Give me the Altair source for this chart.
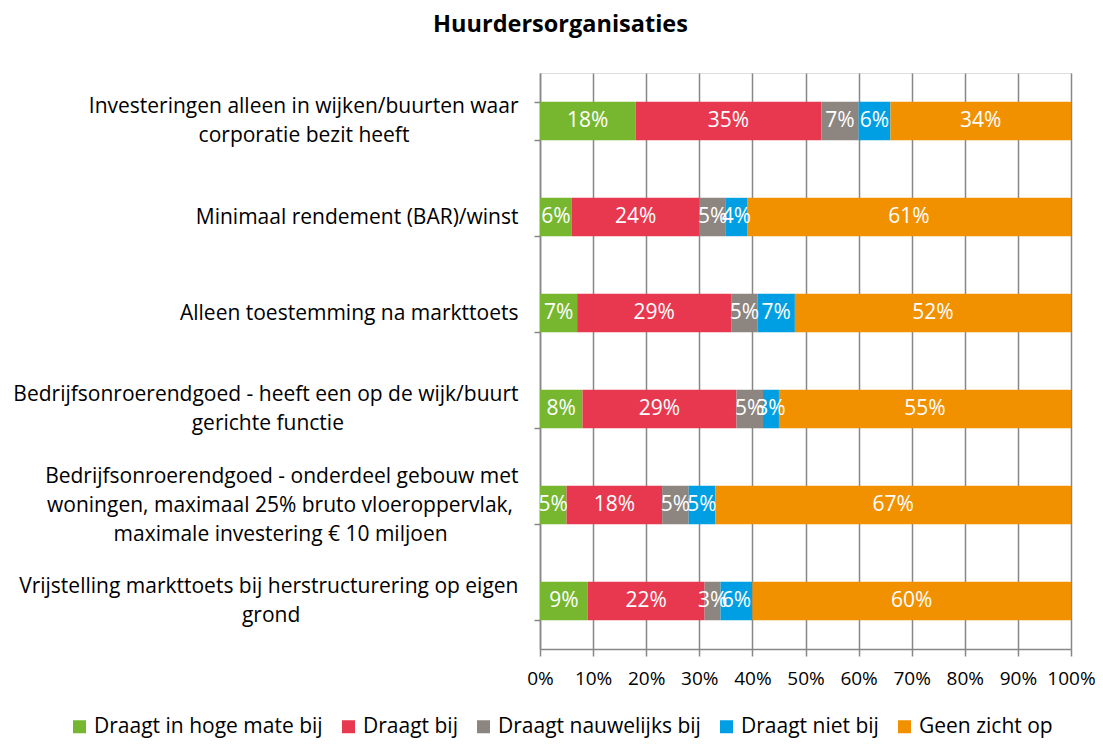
import altair as alt
import pandas as pd

categories = [
    "Investeringen alleen in wijken/buurten waar|corporatie bezit heeft",
    "Minimaal rendement (BAR)/winst",
    "Alleen toestemming na markttoets",
    "Bedrijfsonroerendgoed - heeft een op de wijk/buurt|gerichte functie",
    "Bedrijfsonroerendgoed - onderdeel gebouw met|woningen, maximaal 25% bruto vloeroppervlak,|maximale investering € 10 miljoen",
    "Vrijstelling markttoets bij herstructurering op eigen|grond",
]
series = ["Draagt in hoge mate bij", "Draagt bij", "Draagt nauwelijks bij", "Draagt niet bij", "Geen zicht op"]
hoge_mate = [18, 6, 7, 8, 5, 9]
draagt_bij = [35, 24, 29, 29, 18, 22]
nauwelijks = [7, 5, 5, 5, 5, 3]
niet_bij = [6, 4, 7, 3, 5, 6]
geen_zicht = [34, 61, 52, 55, 67, 60]
colors = ["#76B72F", "#E8384F", "#8C8580", "#009FE3", "#F29100"]
x_ticks = list(range(0, 101, 10))

FONT = "Open Sans"
FS = 21
GRID = "#878787"
LINE_H = 29

# approximate Open Sans advance widths (units per em = 2048), used only to
# centre the lines of the multi-line category labels
_ADV = {
    " ": 532, "a": 1139, "b": 1255, "c": 975, "d": 1255, "e": 1149, "f": 694,
    "g": 1122, "h": 1257, "i": 518, "j": 518, "k": 1075, "l": 518, "m": 1905,
    "n": 1257, "o": 1237, "p": 1255, "q": 1255, "r": 836, "s": 977, "t": 723,
    "u": 1257, "v": 1026, "w": 1593, "x": 1073, "y": 1028, "z": 977,
    "B": 1300, "I": 614, "V": 1133, "A": 1296, "M": 1804, "R": 1221,
    ",": 502, "/": 750, "-": 659, "€": 1171, "%": 1751, "(": 604, ")": 604,
}


def _w(s):
    return sum(_ADV.get(ch, 1171 if ch.isdigit() else 1100) for ch in s)


def center_lines(label):
    # pad shorter lines with no-break spaces (closed by a word joiner so they
    # are kept) so that right-aligned lines look centred
    lines = label.split("|")
    m = max(_w(l) for l in lines)
    out = []
    for l in lines:
        n = round((m - _w(l)) / 2 / _ADV[" "])
        out.append(l + ("\u00A0" * n + "\u2060" if n else ""))
    return "|".join(out)


cat_display = [center_lines(c) for c in categories]
values = [hoge_mate, draagt_bij, nauwelijks, niet_bij, geen_zicht]

rows = []
for ci, cat in enumerate(cat_display):
    for si, s in enumerate(series):
        rows.append({"cat": cat, "series": s, "k": si, "value": values[si][ci]})
df = pd.DataFrame(rows)

base = alt.Chart(df).transform_stack(
    stack="value", as_=["start", "end"], groupby=["cat"], sort=[alt.SortField("k")]
).transform_calculate(mid="(datum.start + datum.end) / 2", lbl="datum.value + '%'")

y_enc = alt.Y(
    "cat:N",
    sort=cat_display,
    scale=alt.Scale(paddingInner=0.6, paddingOuter=0.3),
    axis=alt.Axis(
        title=None,
        labelExpr="split(datum.label, '|')",
        labelAlign="right",
        labelBaseline="middle",
        labelFont=FONT,
        labelFontSize=FS,
        labelColor="black",
        labelPadding=16,
        labelLineHeight=LINE_H,
        labelLimit=700,
        labelOffset={
            "condition": [
                {"test": "length(split(datum.label, '|')) == 3", "value": -LINE_H},
                {"test": "length(split(datum.label, '|')) == 2", "value": -LINE_H / 2},
            ],
            "value": 0,
        },
        tickBand="extent",
        ticks=True,
        tickSize=6,
        tickColor=GRID,
        tickWidth=1.5,
        domainColor=GRID,
        domainWidth=1.5,
        grid=False,
    ),
)

bars = base.mark_bar().encode(
    x=alt.X(
        "start:Q",
        scale=alt.Scale(domain=[0, 100], nice=False),
        axis=alt.Axis(
            title=None,
            values=x_ticks,
            labelExpr="datum.value + '%'",
            labelFont=FONT,
            labelFontSize=19,
            labelColor="black",
            labelPadding=13,
            labelOverlap=False,
            labelFlush=False,
            tickSize=7,
            tickColor=GRID,
            tickWidth=1.5,
            domainColor=GRID,
            domainWidth=1.5,
            grid=True,
            gridColor=GRID,
            gridWidth=1.5,
        ),
    ),
    x2="end:Q",
    y=y_enc,
    color=alt.Color(
        "series:N",
        sort=series,
        scale=alt.Scale(domain=series, range=colors),
        legend=alt.Legend(
            title=None,
            orient="none",
            direction="horizontal",
            legendX=-471,
            legendY=643,
            symbolType="square",
            symbolSize=169,
            symbolStrokeWidth=0,
            labelFont=FONT,
            labelFontSize=FS,
            labelColor="black",
            labelOffset=4,
            columnPadding=15,
            labelLimit=400,
        ),
    ),
    order=alt.Order("k:Q"),
)

texts = base.mark_text(color="white", font=FONT, fontSize=FS, baseline="middle").encode(
    x=alt.X("mid:Q"),
    y=alt.Y("cat:N", sort=cat_display),
    text="lbl:N",
)

chart = alt.layer(bars, texts).properties(
    width=531,
    height=576,
    title=alt.TitleParams(
        "Huurdersorganisaties",
        font=FONT,
        fontSize=23.5,
        fontWeight="bold",
        color="black",
        anchor="middle",
        dx=-245,
        offset=26,
    ),
    autosize=alt.AutoSizeParams(type="none"),
    padding={"left": 532, "top": 65, "right": 24, "bottom": 90},
).configure_view(stroke=None).configure(background="white")

chart.save("out.html", embed_options={"renderer": "svg", "actions": False})
